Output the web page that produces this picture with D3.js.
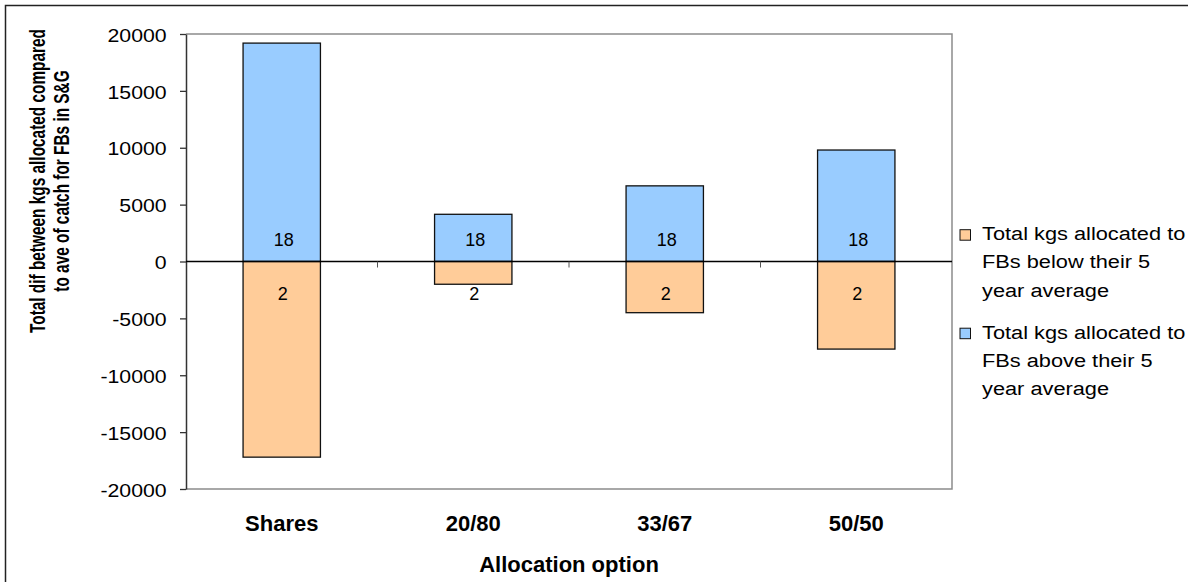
<!DOCTYPE html>
<html>
<head>
<meta charset="utf-8">
<script src="https://cdn.jsdelivr.net/npm/d3@7"></script>
<style>
  html, body { margin: 0; padding: 0; background: #fff; }
  svg { display: block; font-family: "Liberation Sans", Arial, sans-serif; }
</style>
</head>
<body>
<svg id="chart" width="1188" height="582"></svg>
<script>
// ---- data ----
const categories = ["Shares", "20/80", "33/67", "50/50"];
const aboveValues = [19200, 4150, 6650, 9800];     // Total kgs allocated to FBs above their 5 year average
const belowValues = [-17200, -2000, -4500, -7700]; // Total kgs allocated to FBs below their 5 year average
const aboveCounts = [18, 18, 18, 18];
const belowCounts = [2, 2, 2, 2];
const yTickValues = [20000, 15000, 10000, 5000, 0, -5000, -10000, -15000, -20000];
const legendBelow = ["Total kgs allocated to", "FBs below their 5", "year average"];
const legendAbove = ["Total kgs allocated to", "FBs above their 5", "year average"];
const yTitleLines = ["Total dif between kgs allocated compared", "to ave of catch for FBs in S&G"];
const xTitle = "Allocation option";

const colorAbove = "#99CCFF";
const colorBelow = "#FFCC99";

const svg = d3.select("#chart");

// outer chart border
svg.append("rect").attr("x", 5.5).attr("y", 5.5).attr("width", 1200).attr("height", 600)
  .attr("fill", "#fff").attr("stroke", "#222").attr("stroke-width", 1.5);

const plot = { left: 186, right: 952, top: 34, bottom: 489 };

const x = d3.scaleBand().domain(categories)
  .range([plot.left, plot.right]).paddingInner(0.596).paddingOuter(0.298);
const xBounds = d3.scaleBand().domain(categories).range([plot.left, plot.right]).padding(0);
const y = d3.scaleLinear().domain([-20000, 20000]).range([plot.bottom, plot.top]);

// plot area border (gray)
svg.append("path")
  .attr("d", `M${plot.left},${plot.top}H${plot.right}V${plot.bottom}H${plot.left}`)
  .attr("fill", "none").attr("stroke", "#8c8c8c").attr("stroke-width", 1.5);

// bars
const g = svg.append("g");
g.selectAll("rect.above").data(categories).join("rect").attr("class", "above")
  .attr("x", d => x(d)).attr("width", x.bandwidth())
  .attr("y", (d, i) => y(aboveValues[i])).attr("height", (d, i) => y(0) - y(aboveValues[i]))
  .attr("fill", colorAbove).attr("stroke", "#111").attr("stroke-width", 1.3);
g.selectAll("rect.below").data(categories).join("rect").attr("class", "below")
  .attr("x", d => x(d)).attr("width", x.bandwidth())
  .attr("y", y(0)).attr("height", (d, i) => y(belowValues[i]) - y(0))
  .attr("fill", colorBelow).attr("stroke", "#111").attr("stroke-width", 1.3);

// y axis
const yAxis = svg.append("g").attr("transform", `translate(${plot.left},0)`)
  .call(d3.axisLeft(y).tickValues(yTickValues).tickSize(6).tickSizeOuter(0).tickFormat(d => String(d)));
yAxis.select(".domain").attr("stroke", "#333").attr("stroke-width", 1.5);
yAxis.selectAll(".tick line").attr("stroke", "#333").attr("stroke-width", 1.3);
yAxis.selectAll(".tick text")
  .attr("font-size", 19).attr("fill", "#000")
  .attr("font-family", "'Liberation Sans', Arial, sans-serif")
  .attr("x", -17.3).attr("dy", "0.38em")
  .attr("transform", "scale(1.12,1)");

// category axis along zero line
const xAxis = svg.append("g").attr("transform", `translate(0,${y(0)})`);
xAxis.append("line").attr("x1", plot.left).attr("x2", plot.right)
  .attr("stroke", "#000").attr("stroke-width", 1.5);
const boundaries = categories.slice(1).map(c => xBounds(c));
xAxis.selectAll("line.tk").data(boundaries).join("line").attr("class", "tk")
  .attr("x1", d => d).attr("x2", d => d).attr("y1", 0).attr("y2", 6)
  .attr("stroke", "#555").attr("stroke-width", 1);

// data labels
g.selectAll("text.lab-above").data(categories).join("text").attr("class", "lab-above")
  .attr("x", d => x(d) + x.bandwidth() / 2 + 2).attr("y", y(0) - 16)
  .attr("text-anchor", "middle").attr("font-size", 18).attr("fill", "#000")
  .text((d, i) => aboveCounts[i]);
g.selectAll("text.lab-below").data(categories).join("text").attr("class", "lab-below")
  .attr("x", d => x(d) + x.bandwidth() / 2 + 1).attr("y", y(0) + 38)
  .attr("text-anchor", "middle").attr("font-size", 18).attr("fill", "#000")
  .text((d, i) => belowCounts[i]);

// category labels (bottom)
svg.selectAll("text.cat").data(categories).join("text").attr("class", "cat")
  .attr("x", d => x(d) + x.bandwidth() / 2).attr("y", 531)
  .attr("text-anchor", "middle").attr("font-size", 22).attr("font-weight", "bold")
  .attr("fill", "#000").text(d => d);

// x title
svg.append("text").attr("x", 569).attr("y", 572).attr("text-anchor", "middle")
  .attr("font-size", 22).attr("font-weight", "bold").attr("fill", "#000").text(xTitle);

// y title (rotated, two lines)
const yTitleBaselines = [45, 69];
yTitleLines.forEach((t, i) => {
  svg.append("text")
    .attr("transform", `translate(${yTitleBaselines[i]},181) rotate(-90) scale(0.70,1)`)
    .attr("text-anchor", "middle").attr("font-size", 22).attr("font-weight", "bold")
    .attr("fill", "#000").text(t);
});

// legend
const legendItems = [
  { color: colorBelow, lines: legendBelow, base: 240 },
  { color: colorAbove, lines: legendAbove, base: 338.5 }
];
legendItems.forEach(item => {
  svg.append("rect").attr("x", 960).attr("y", item.base - 10.3).attr("width", 10.5).attr("height", 10.5)
    .attr("fill", item.color).attr("stroke", "#111").attr("stroke-width", 1);
  item.lines.forEach((ln, j) => {
    svg.append("text")
      .attr("transform", `translate(982,${item.base + j * 28.4}) scale(1.21,1)`)
      .attr("font-size", 18).attr("fill", "#000").text(ln);
  });
});
</script>
</body>
</html>
